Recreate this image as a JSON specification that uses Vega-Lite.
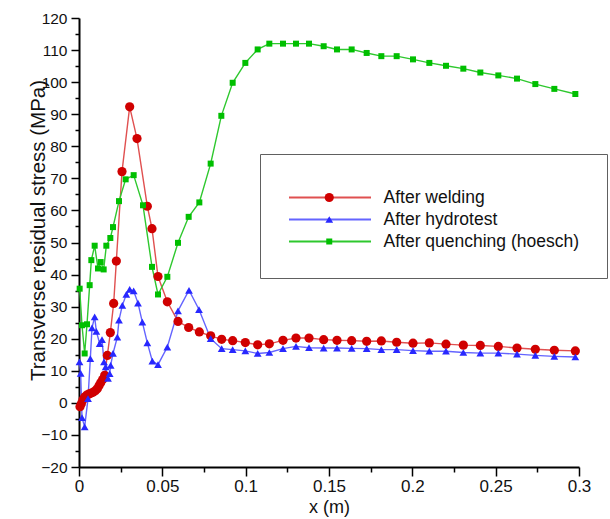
{
  "$schema": "https://vega.github.io/schema/vega-lite/v6.json",
  "width": 500,
  "height": 449,
  "autosize": {"type": "none"},
  "padding": {"left": 79, "top": 18, "right": 31, "bottom": 52},
  "background": "white",
  "config": {"view": {"stroke": null}, "font": "Liberation Sans"},
  "data": {"values": [
    {"s":"After welding","x":0.0006,"y":-1.2},{"s":"After welding","x":0.0014,"y":-0.3},{"s":"After welding","x":0.0024,"y":1.0},{"s":"After welding","x":0.0034,"y":1.8},{"s":"After welding","x":0.0046,"y":2.4},{"s":"After welding","x":0.0058,"y":2.7},{"s":"After welding","x":0.007,"y":3.0},{"s":"After welding","x":0.0084,"y":3.3},{"s":"After welding","x":0.0098,"y":3.8},{"s":"After welding","x":0.011,"y":4.4},{"s":"After welding","x":0.012,"y":5.3},{"s":"After welding","x":0.013,"y":6.3},{"s":"After welding","x":0.0142,"y":7.3},{"s":"After welding","x":0.0154,"y":8.6},{"s":"After welding","x":0.017,"y":14.8},{"s":"After welding","x":0.0188,"y":21.9},{"s":"After welding","x":0.0208,"y":31.0},{"s":"After welding","x":0.0224,"y":44.2},{"s":"After welding","x":0.0258,"y":72.1},{"s":"After welding","x":0.0304,"y":92.3},{"s":"After welding","x":0.0348,"y":82.4},{"s":"After welding","x":0.041,"y":61.3},{"s":"After welding","x":0.0438,"y":54.3},{"s":"After welding","x":0.0474,"y":39.4},{"s":"After welding","x":0.053,"y":31.5},{"s":"After welding","x":0.0594,"y":25.4},{"s":"After welding","x":0.0658,"y":23.5},{"s":"After welding","x":0.0722,"y":22.1},{"s":"After welding","x":0.079,"y":20.9},{"s":"After welding","x":0.0856,"y":19.8},{"s":"After welding","x":0.0922,"y":19.4},{"s":"After welding","x":0.0998,"y":18.8},{"s":"After welding","x":0.1072,"y":18.1},{"s":"After welding","x":0.1142,"y":18.4},{"s":"After welding","x":0.1224,"y":19.5},{"s":"After welding","x":0.1302,"y":20.2},{"s":"After welding","x":0.138,"y":20.2},{"s":"After welding","x":0.1468,"y":19.7},{"s":"After welding","x":0.1548,"y":19.5},{"s":"After welding","x":0.1636,"y":19.4},{"s":"After welding","x":0.1726,"y":19.2},{"s":"After welding","x":0.1814,"y":19.3},{"s":"After welding","x":0.1906,"y":18.9},{"s":"After welding","x":0.2004,"y":18.6},{"s":"After welding","x":0.2102,"y":18.7},{"s":"After welding","x":0.2202,"y":18.3},{"s":"After welding","x":0.2306,"y":18.0},{"s":"After welding","x":0.2408,"y":17.9},{"s":"After welding","x":0.2516,"y":17.6},{"s":"After welding","x":0.2628,"y":17.1},{"s":"After welding","x":0.2738,"y":16.7},{"s":"After welding","x":0.2852,"y":16.4},{"s":"After welding","x":0.2978,"y":16.2},
    {"s":"After hydrotest","x":0.0003,"y":12.8},{"s":"After hydrotest","x":0.001,"y":9.2},{"s":"After hydrotest","x":0.0018,"y":-4.6},{"s":"After hydrotest","x":0.0034,"y":-7.5},{"s":"After hydrotest","x":0.0054,"y":1.3},{"s":"After hydrotest","x":0.0068,"y":13.8},{"s":"After hydrotest","x":0.0078,"y":23.4},{"s":"After hydrotest","x":0.0094,"y":26.8},{"s":"After hydrotest","x":0.0104,"y":22.3},{"s":"After hydrotest","x":0.0124,"y":18.5},{"s":"After hydrotest","x":0.0138,"y":19.7},{"s":"After hydrotest","x":0.015,"y":12.8},{"s":"After hydrotest","x":0.016,"y":11.2},{"s":"After hydrotest","x":0.0174,"y":7.6},{"s":"After hydrotest","x":0.0184,"y":9.1},{"s":"After hydrotest","x":0.019,"y":11.7},{"s":"After hydrotest","x":0.0204,"y":15.4},{"s":"After hydrotest","x":0.023,"y":20.5},{"s":"After hydrotest","x":0.024,"y":25.8},{"s":"After hydrotest","x":0.026,"y":30.4},{"s":"After hydrotest","x":0.0284,"y":33.8},{"s":"After hydrotest","x":0.0304,"y":35.4},{"s":"After hydrotest","x":0.0328,"y":34.9},{"s":"After hydrotest","x":0.0354,"y":31.1},{"s":"After hydrotest","x":0.038,"y":25.2},{"s":"After hydrotest","x":0.041,"y":18.7},{"s":"After hydrotest","x":0.044,"y":13.0},{"s":"After hydrotest","x":0.0474,"y":11.9},{"s":"After hydrotest","x":0.053,"y":17.4},{"s":"After hydrotest","x":0.0594,"y":28.7},{"s":"After hydrotest","x":0.066,"y":35.1},{"s":"After hydrotest","x":0.072,"y":29.1},{"s":"After hydrotest","x":0.079,"y":20.0},{"s":"After hydrotest","x":0.0856,"y":16.9},{"s":"After hydrotest","x":0.0922,"y":16.6},{"s":"After hydrotest","x":0.0998,"y":16.2},{"s":"After hydrotest","x":0.1072,"y":15.4},{"s":"After hydrotest","x":0.1142,"y":15.7},{"s":"After hydrotest","x":0.1224,"y":16.9},{"s":"After hydrotest","x":0.1302,"y":17.6},{"s":"After hydrotest","x":0.138,"y":17.2},{"s":"After hydrotest","x":0.1468,"y":17.1},{"s":"After hydrotest","x":0.1548,"y":17.1},{"s":"After hydrotest","x":0.1636,"y":17.0},{"s":"After hydrotest","x":0.1726,"y":16.9},{"s":"After hydrotest","x":0.1814,"y":16.6},{"s":"After hydrotest","x":0.1906,"y":16.6},{"s":"After hydrotest","x":0.2004,"y":16.3},{"s":"After hydrotest","x":0.2102,"y":16.1},{"s":"After hydrotest","x":0.2202,"y":16.1},{"s":"After hydrotest","x":0.2306,"y":15.7},{"s":"After hydrotest","x":0.2408,"y":15.5},{"s":"After hydrotest","x":0.2516,"y":15.5},{"s":"After hydrotest","x":0.2628,"y":15.2},{"s":"After hydrotest","x":0.2738,"y":14.8},{"s":"After hydrotest","x":0.2852,"y":14.5},{"s":"After hydrotest","x":0.2978,"y":14.3},
    {"s":"After quenching (hoesch)","x":0.0004,"y":35.6},{"s":"After quenching (hoesch)","x":0.0018,"y":24.2},{"s":"After quenching (hoesch)","x":0.0034,"y":15.4},{"s":"After quenching (hoesch)","x":0.0048,"y":24.5},{"s":"After quenching (hoesch)","x":0.0064,"y":36.7},{"s":"After quenching (hoesch)","x":0.0074,"y":44.5},{"s":"After quenching (hoesch)","x":0.0094,"y":49.0},{"s":"After quenching (hoesch)","x":0.0114,"y":41.9},{"s":"After quenching (hoesch)","x":0.013,"y":43.9},{"s":"After quenching (hoesch)","x":0.0148,"y":41.6},{"s":"After quenching (hoesch)","x":0.0164,"y":49.0},{"s":"After quenching (hoesch)","x":0.0188,"y":51.4},{"s":"After quenching (hoesch)","x":0.0204,"y":54.8},{"s":"After quenching (hoesch)","x":0.024,"y":62.9},{"s":"After quenching (hoesch)","x":0.028,"y":69.7},{"s":"After quenching (hoesch)","x":0.0328,"y":71.0},{"s":"After quenching (hoesch)","x":0.0384,"y":61.6},{"s":"After quenching (hoesch)","x":0.0438,"y":42.4},{"s":"After quenching (hoesch)","x":0.0474,"y":33.8},{"s":"After quenching (hoesch)","x":0.053,"y":39.3},{"s":"After quenching (hoesch)","x":0.0594,"y":49.9},{"s":"After quenching (hoesch)","x":0.0658,"y":58.0},{"s":"After quenching (hoesch)","x":0.0722,"y":62.5},{"s":"After quenching (hoesch)","x":0.079,"y":74.6},{"s":"After quenching (hoesch)","x":0.0854,"y":89.5},{"s":"After quenching (hoesch)","x":0.0922,"y":99.8},{"s":"After quenching (hoesch)","x":0.0998,"y":106.0},{"s":"After quenching (hoesch)","x":0.1072,"y":110.2},{"s":"After quenching (hoesch)","x":0.1142,"y":112.0},{"s":"After quenching (hoesch)","x":0.1224,"y":112.0},{"s":"After quenching (hoesch)","x":0.1302,"y":112.0},{"s":"After quenching (hoesch)","x":0.138,"y":112.0},{"s":"After quenching (hoesch)","x":0.1468,"y":111.2},{"s":"After quenching (hoesch)","x":0.1548,"y":110.2},{"s":"After quenching (hoesch)","x":0.1636,"y":110.2},{"s":"After quenching (hoesch)","x":0.1726,"y":109.1},{"s":"After quenching (hoesch)","x":0.1814,"y":108.1},{"s":"After quenching (hoesch)","x":0.1906,"y":108.1},{"s":"After quenching (hoesch)","x":0.2004,"y":107.1},{"s":"After quenching (hoesch)","x":0.2102,"y":106.0},{"s":"After quenching (hoesch)","x":0.2202,"y":105.1},{"s":"After quenching (hoesch)","x":0.2306,"y":104.2},{"s":"After quenching (hoesch)","x":0.2408,"y":103.0},{"s":"After quenching (hoesch)","x":0.2516,"y":102.1},{"s":"After quenching (hoesch)","x":0.2628,"y":101.1},{"s":"After quenching (hoesch)","x":0.2738,"y":99.4},{"s":"After quenching (hoesch)","x":0.2852,"y":97.9},{"s":"After quenching (hoesch)","x":0.2978,"y":96.3}
  ]},
  "encoding": {
    "x": {
      "field": "x", "type": "quantitative",
      "scale": {"domain": [0, 0.3], "nice": false, "zero": false},
      "axis": {
        "title": "x (m)", "titleFont": "Liberation Sans", "titleFontSize": 18, "titleFontWeight": "normal", "titleColor": "#111", "titlePadding": 4,
        "values": [0,0.025,0.05,0.075,0.1,0.125,0.15,0.175,0.2,0.225,0.25,0.275,0.3],
        "labelExpr": "round(datum.value*1000) % 50 === 0 ? format(datum.value, '~g') : ''",
        "labelFont": "Liberation Sans", "labelFontSize": 17, "labelColor": "#111", "labelPadding": 2, "labelFlush": false, "labelOverlap": false,
        "grid": false, "domainColor": "black", "domainWidth": 2, "tickColor": "black", "tickWidth": 1.5,
        "tickSize": {"condition": {"test": "round(datum.value*1000) % 50 === 0", "value": 9}, "value": 5}
      }
    },
    "y": {
      "field": "y", "type": "quantitative",
      "scale": {"domain": [-20, 120], "nice": false, "zero": false},
      "axis": {
        "title": "Transverse residual stress (MPa)", "titleFont": "Liberation Sans", "titleFontSize": 20.5, "titleFontWeight": "normal", "titleColor": "#111",
        "titleX": -31, "titleY": 212, "titleAngle": 270, "titleBaseline": "bottom", "titleAlign": "center",
        "values": [-20,-15,-10,-5,0,5,10,15,20,25,30,35,40,45,50,55,60,65,70,75,80,85,90,95,100,105,110,115,120],
        "labelExpr": "datum.value % 10 === 0 ? datum.label : ''",
        "labelFont": "Liberation Sans", "labelFontSize": 15.5, "labelColor": "#111", "labelPadding": 4, "labelFlush": false, "labelOverlap": false,
        "grid": false, "domainColor": "black", "domainWidth": 2, "tickColor": "black", "tickWidth": 1.5,
        "tickSize": {"condition": {"test": "datum.value % 10 === 0", "value": 8}, "value": 4}
      }
    }
  },
  "layer": [
    {
      "mark": {"type": "line", "strokeWidth": 1.4},
      "encoding": {
        "stroke": {
          "field": "s", "type": "nominal",
          "scale": {"domain": ["After welding", "After hydrotest", "After quenching (hoesch)", "-"], "range": ["#e05050", "#6464ff", "#2ec82e", "#ffffff"]},
          "legend": {
            "orient": "none", "legendX": 181, "legendY": 136,
            "values": ["After welding", "After hydrotest", "After quenching (hoesch)"],
            "title": " ", "titleFontSize": 5, "titlePadding": 2, "padding": 28,
            "strokeColor": "#606060", "symbolType": "stroke", "symbolSize": 6724, "symbolStrokeWidth": 2,
            "clipHeight": 17, "labelFont": "Liberation Sans", "labelFontSize": 17.5, "labelLimit": 400, "labelOpacity": 0, "labelOffset": 11, "rowPadding": 4
          }
        }
      }
    },
    {
      "mark": {"type": "point", "filled": true, "opacity": 1},
      "encoding": {
        "fill": {
          "field": "s", "type": "nominal",
          "scale": {"domain": ["After welding", "After hydrotest", "After quenching (hoesch)"], "range": ["#d00000", "#2828ff", "#00bf00"]},
          "legend": {
            "orient": "none", "legendX": 213.5, "legendY": 136,
            "title": " ", "titleFontSize": 5, "titlePadding": 2, "padding": 28,
            "clipHeight": 17, "symbolStrokeWidth": 0, "labelFont": "Liberation Sans", "labelFontSize": 17.5, "labelLimit": 400, "labelColor": "#111", "labelOffset": 45.5, "rowPadding": 4
          }
        },
        "shape": {
          "field": "s", "type": "nominal",
          "scale": {"domain": ["After welding", "After hydrotest", "After quenching (hoesch)"], "range": ["circle", "triangle-up", "square"]}
        },
        "size": {
          "field": "s", "type": "nominal",
          "scale": {"domain": ["After welding", "After hydrotest", "After quenching (hoesch)"], "range": [85, 36, 44]}
        }
      }
    }
  ]
}
